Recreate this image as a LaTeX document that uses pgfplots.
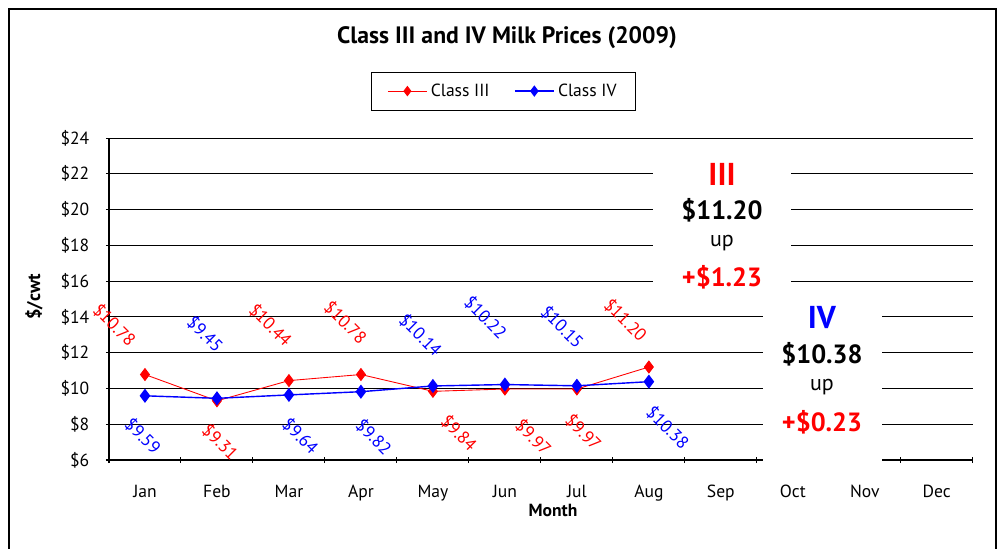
\documentclass[border=0pt]{standalone}
\usepackage{fontspec}
\setmainfont{PT Sans}
\usepackage{pgfplots}
\pgfplotsset{compat=1.18}
\newcommand{\fs}[1]{\fontsize{#1}{#1}\selectfont}
\begin{document}
\begin{tikzpicture}
\begin{scope}[x=0.02cm,y=0.02cm]
\useasboundingbox (0,0) rectangle (1001,548);
\draw[line width=1.1pt] (9,539) rectangle (996,-20);
\node[font=\fs{13.5}\bfseries] at (507,510) {Class III and IV Milk Prices (2009)};
\node[font=\fs{10.5}\bfseries, rotate=90] at (34,251) {\$/cwt};
\node[font=\fs{10}\bfseries] at (553,38) {Month};
\end{scope}
\begin{axis}[at={(2.18cm,1.76cm)}, anchor=south west, scale only axis,
  width=17.28cm, height=6.44cm,
  xmin=0.5, xmax=12.5, ymin=6, ymax=24, clip=false,
  xtick={1,...,12}, xticklabels={Jan,Feb,Mar,Apr,May,Jun,Jul,Aug,Sep,Oct,Nov,Dec},
  minor xtick={0.5,1.5,...,12.5},
  ytick={6,8,...,24}, yticklabels={\$6,\$8,\$10,\$12,\$14,\$16,\$18,\$20,\$22,\$24},
  tick align=outside, major tick length=3.4pt, minor tick length=3.4pt,
  every major x tick/.append style={draw=none},
  tick style={black, line width=0.6pt},
  ymajorgrids, grid style={black, line width=0.6pt},
  axis lines=left, axis line style={-, black},
  x axis line style={line width=1.6pt}, y axis line style={line width=0.8pt},
  xticklabel style={yshift=-9pt, font=\fs{10}},
  yticklabel style={font=\fs{10}, xshift=-6pt},
  legend image code/.code={\draw[mark repeat=2, mark phase=2, #1, mark size=2.6pt]
    plot coordinates {(0cm,0cm) (0.39cm,0cm) (0.78cm,0cm)};},
  legend style={at={(0.457,1.146)}, anchor=center, legend columns=2, draw=black,
    line width=0.6pt, font=\fs{10}, inner xsep=9pt, inner ysep=4.5pt,
    /tikz/every even column/.append style={column sep=12pt}},
  legend cell align=left]
\addplot[red, line width=0.5pt, mark=diamond*, mark size=3.4pt] coordinates {(1,10.78)(2,9.31)(3,10.44)(4,10.78)(5,9.84)(6,9.97)(7,9.97)(8,11.20)};
\addlegendentry{Class III}
\addplot[blue, line width=0.8pt, mark=diamond*, mark size=3.4pt] coordinates {(1,9.59)(2,9.45)(3,9.64)(4,9.82)(5,10.14)(6,10.22)(7,10.15)(8,10.38)};
\addlegendentry{Class IV}
\addplot[draw=none, forget plot, nodes near coords, point meta=explicit symbolic,
  nodes near coords style={anchor=center, rotate=-45, text=red, font=\fs{10}}]
  coordinates {(0.575,13.55)[\$10.78] (2.045,7.01)[\$9.31] (2.742,13.55)[\$10.44] (3.787,13.69)[\$10.78]
  (5.362,7.51)[\$9.84] (6.394,7.26)[\$9.97] (7.091,7.54)[\$9.97] (7.676,13.83)[\$11.20]};
\addplot[draw=none, forget plot, nodes near coords, point meta=explicit symbolic,
  nodes near coords style={anchor=center, rotate=-45, text=blue, font=\fs{10}}]
  coordinates {(0.972,7.34)[\$9.59] (1.836,13.04)[\$9.45] (3.160,7.34)[\$9.64] (4.178,7.29)[\$9.82]
  (4.826,12.99)[\$10.14] (5.732,13.97)[\$10.22] (6.798,13.43)[\$10.15] (8.261,7.82)[\$10.38]};
\end{axis}
\begin{scope}[x=0.02cm,y=0.02cm]
\fill[white] (653,398) rectangle (791,253);
\fill[white] (763,248) rectangle (882,83);
\node[text=red, font=\fs{18}\bfseries] at (722,374) {III};
\node[font=\fs{15}\bfseries] at (722,338) {\$11.20};
\node[font=\fs{12.5}] at (722,305) {up};
\node[text=red, font=\fs{15}\bfseries] at (722,271) {+\$1.23};
\node[text=blue, font=\fs{18}\bfseries] at (822,230) {IV};
\node[font=\fs{15}\bfseries] at (822,194) {\$10.38};
\node[font=\fs{12.5}] at (822,161) {up};
\node[text=red, font=\fs{15}\bfseries] at (822,126) {+\$0.23};
\end{scope}
\end{tikzpicture}
\end{document}
